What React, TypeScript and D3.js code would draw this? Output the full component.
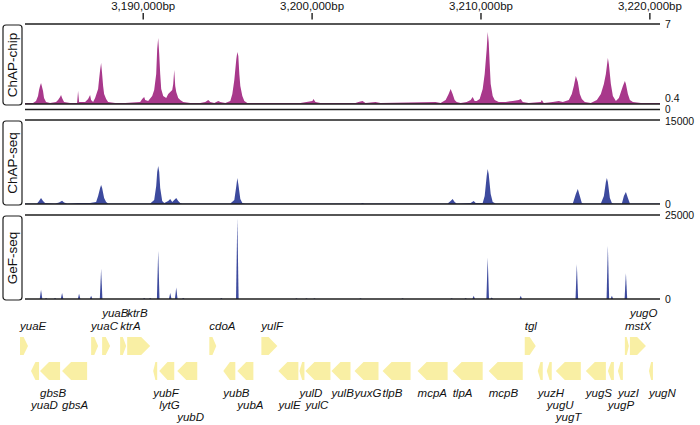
import React from 'react';
import * as d3 from 'd3';

// ---------- data ----------
const axisTicks = [3190000, 3200000, 3210000, 3220000];
const xDomain = [3183000, 3220600];

const trackNames = ['ChAP-chip', 'ChAP-seq', 'GeF-seq'];
const trackMin = [0.4, 0, 0];
const trackMax = [7, 15000, 25000];

// ChAP-chip enrichment profile [position bp, ratio]
const chapChip: [number, number][] = [
  [3183000, 0.48], [3183475, 0.48], [3183653, 0.65], [3183771, 1.06], [3183831, 1.56], [3183890, 1.89],
  [3183949, 2.13], [3184009, 1.8], [3184068, 1.47], [3184127, 0.9], [3184246, 0.57], [3184483, 0.48],
  [3184839, 0.57], [3184957, 0.73], [3185076, 0.98], [3185135, 1.14], [3185195, 0.9], [3185313, 0.57],
  [3185669, 0.48], [3186084, 0.48], [3186143, 1.47], [3186203, 0.57], [3186559, 0.57], [3186736, 0.81],
  [3186796, 0.98], [3186855, 1.14], [3186914, 0.73], [3187033, 0.57], [3187152, 0.9], [3187270, 1.39],
  [3187329, 1.64], [3187389, 2.46], [3187448, 3.21], [3187507, 3.78], [3187567, 2.88], [3187626, 1.89],
  [3187685, 1.23], [3187804, 0.81], [3187922, 0.57], [3188338, 0.48], [3188931, 0.48], [3189820, 0.57],
  [3189939, 0.81], [3190057, 0.98], [3190117, 0.73], [3190294, 0.65], [3190532, 1.06], [3190650, 1.56],
  [3190769, 2.88], [3190828, 4.94], [3190887, 5.85], [3190947, 4.53], [3191006, 2.88], [3191065, 1.64],
  [3191184, 1.06], [3191362, 0.9], [3191480, 1.23], [3191599, 1.39], [3191718, 1.56], [3191777, 2.05],
  [3191836, 3.21], [3191896, 1.89], [3191955, 1.39], [3192073, 0.9], [3192192, 0.73], [3192370, 0.57],
  [3192785, 0.48], [3193378, 0.48], [3193675, 0.57], [3193852, 0.73], [3193971, 0.57], [3194208, 0.48],
  [3194445, 0.65], [3194564, 0.57], [3194861, 0.48], [3195157, 0.65], [3195276, 1.23], [3195394, 2.38],
  [3195513, 4.11], [3195572, 4.69], [3195631, 4.36], [3195691, 2.88], [3195750, 1.89], [3195869, 1.06],
  [3195987, 0.65], [3196165, 0.48], [3199308, 0.48], [3200020, 0.65], [3200079, 0.81], [3200198, 0.57],
  [3200494, 0.48], [3202570, 0.48], [3202747, 0.57], [3202985, 0.65], [3203163, 0.48], [3203756, 0.57],
  [3204052, 0.48], [3207314, 0.57], [3207610, 0.48], [3207907, 0.73], [3208084, 1.23], [3208203, 1.64],
  [3208322, 1.23], [3208440, 0.73], [3208559, 0.57], [3208796, 0.48], [3209152, 0.57], [3209389, 0.73],
  [3209508, 0.98], [3209626, 0.65], [3209745, 0.65], [3209923, 0.81], [3210101, 1.64], [3210219, 2.88],
  [3210338, 4.94], [3210397, 6.34], [3210456, 5.52], [3210516, 3.7], [3210575, 2.05], [3210694, 1.06],
  [3210812, 0.73], [3211049, 0.57], [3211465, 0.57], [3211880, 0.65], [3212235, 0.73], [3212354, 0.81],
  [3212473, 0.57], [3212828, 0.48], [3213540, 0.57], [3213599, 0.73], [3213718, 0.48], [3214252, 0.57],
  [3214607, 0.65], [3214845, 0.57], [3215200, 0.73], [3215378, 1.23], [3215497, 1.89], [3215616, 2.71],
  [3215734, 2.22], [3215853, 1.23], [3215971, 0.81], [3216149, 0.57], [3216505, 0.48], [3216861, 0.73],
  [3217098, 1.23], [3217276, 2.05], [3217395, 2.88], [3217513, 4.2], [3217572, 3.7], [3217691, 2.05],
  [3217810, 1.06], [3217988, 0.65], [3218165, 0.9], [3218284, 1.39], [3218403, 1.89], [3218521, 2.3],
  [3218581, 2.05], [3218699, 1.23], [3218818, 0.73], [3218996, 0.57], [3219470, 0.48], [3220597, 0.48],
];

// ChAP-seq read coverage [position bp, reads]
const chapSeq: [number, number][] = [
  [3183000, 90], [3183712, 90], [3183831, 540], [3183949, 1070], [3184068, 540], [3184187, 180],
  [3184780, 90], [3185017, 270], [3185195, 590], [3185313, 270], [3185491, 90], [3186143, 180],
  [3186855, 180], [3187211, 360], [3187329, 1430], [3187448, 2860], [3187507, 3390], [3187567, 2860],
  [3187685, 1070], [3187804, 360], [3187922, 90], [3190413, 90], [3190650, 710], [3190769, 3210],
  [3190828, 5710], [3190887, 6790], [3190947, 5710], [3191006, 2860], [3191125, 540], [3191243, 180],
  [3191480, 540], [3191599, 890], [3191718, 360], [3191836, 710], [3191955, 1070], [3192073, 540],
  [3192192, 180], [3192311, 90], [3195157, 90], [3195394, 710], [3195513, 3210], [3195572, 4640],
  [3195631, 3570], [3195750, 890], [3195869, 180], [3196047, 90], [3202866, 90], [3202985, 180],
  [3203103, 90], [3208025, 90], [3208203, 540], [3208322, 890], [3208440, 360], [3208559, 90],
  [3209389, 180], [3209567, 540], [3209686, 180], [3210101, 180], [3210219, 1430], [3210338, 5000],
  [3210397, 6250], [3210456, 5360], [3210575, 1790], [3210694, 360], [3210872, 90], [3215438, 90],
  [3215616, 1790], [3215734, 2680], [3215853, 1430], [3215971, 180], [3216090, 90], [3217098, 90],
  [3217276, 1430], [3217395, 3930], [3217454, 4640], [3217513, 3930], [3217632, 1070], [3217750, 180],
  [3217869, 90], [3218343, 90], [3218462, 1430], [3218581, 2140], [3218699, 1070], [3218818, 90],
  [3220597, 90],
];

// GeF-seq sharp peaks [position bp, reads]
const gefSeq: [number, number][] = [
  [3183949, 2770], [3184246, 300], [3184780, 300], [3185195, 1790], [3186203, 1580], [3186914, 980],
  [3187507, 8930], [3190057, 300], [3190413, 300], [3190887, 14370], [3191599, 1790], [3191955, 3450],
  [3192370, 300], [3194623, 300], [3195572, 24100], [3199071, 200], [3199664, 200], [3200138, 200],
  [3202866, 200], [3205357, 200], [3208262, 200], [3209093, 300], [3209567, 980], [3210397, 12380],
  [3210634, 450], [3212354, 980], [3215675, 10420], [3217513, 15950], [3217750, 980], [3218581, 7740],
];

// genes: [name, start, end, strand, label level]
const genes: [string, number, number, number, number][] = [
  ['yuaE', 3182704, 3183178, 1, 2],
  ['yuaC', 3186914, 3187329, 1, 2],
  ['yuaB', 3187567, 3188041, 1, 1],
  ['ktrA', 3188634, 3188990, 1, 2],
  ['ktrB', 3189049, 3190413, 1, 1],
  ['cdoA', 3193912, 3194327, 1, 2],
  ['yulF', 3196995, 3197944, 1, 2],
  ['tgl', 3212591, 3213244, 1, 2],
  ['mstX', 3218521, 3218758, 1, 2],
  ['yugO', 3218818, 3219767, 1, 1],
  ['yuaD', 3183356, 3183831, -1, 2],
  ['gbsB', 3183890, 3185076, -1, 1],
  ['gbsA', 3185195, 3186677, -1, 2],
  ['yubF', 3190591, 3190828, -1, 1],
  ['lytG', 3190947, 3191836, -1, 2],
  ['yubD', 3192014, 3193200, -1, 3],
  ['yubB', 3194742, 3195454, -1, 1],
  ['yubA', 3195572, 3196521, -1, 2],
  ['yulE', 3198003, 3199189, -1, 2],
  ['yulD', 3199249, 3199545, -1, 1],
  ['yulC', 3199605, 3201087, -1, 2],
  ['yulB', 3201146, 3202273, -1, 1],
  ['yuxG', 3202510, 3203933, -1, 1],
  ['tlpB', 3204171, 3205831, -1, 1],
  ['mcpA', 3206246, 3208025, -1, 1],
  ['tlpA', 3208322, 3210101, -1, 1],
  ['mcpB', 3210456, 3212473, -1, 1],
  ['yuzH', 3213362, 3213659, -1, 1],
  ['yugU', 3213896, 3214192, -1, 2],
  ['yugT', 3214430, 3215912, -1, 3],
  ['yugS', 3216209, 3217395, -1, 1],
  ['yugP', 3217513, 3217869, -1, 2],
  ['yuzI', 3218106, 3218403, -1, 1],
  ['yugN', 3219944, 3220182, -1, 1],
];

// ---------- layout / style ----------
const W = 700;
const H = 425;
const FONT = '"Liberation Sans", Arial, Helvetica, sans-serif';
const trackTop = [24, 120, 215];
const trackBottom = [104, 204, 299];
const trackColor = ['#a8388b', '#3d4a9e', '#3d4a9e'];
const geneFill = '#f9efa4';
const LINE = '#1e1e1e';

const x = d3.scaleLinear().domain(xDomain).range([25, 660]);

function genePath(s: number, e: number, strand: number, yTop: number, h: number) {
  const x1 = x(s);
  const x2 = x(e);
  const w = x2 - x1;
  const head = Math.min(9, w * 0.55);
  const ym = yTop + h / 2;
  const yb = yTop + h;
  if (strand > 0) {
    return `M${x1},${yTop}L${x2 - head},${yTop}L${x2},${ym}L${x2 - head},${yb}L${x1},${yb}Z`;
  }
  return `M${x2},${yTop}L${x1 + head},${yTop}L${x1},${ym}L${x1 + head},${yb}L${x2},${yb}Z`;
}

export default function App() {
  const fmt = d3.format(',');
  const yScales = trackNames.map((_, i) =>
    d3.scaleLinear().domain([trackMin[i], trackMax[i]]).range([trackBottom[i], trackTop[i]])
  );

  const areaFor = (i: number) =>
    d3
      .area<[number, number]>()
      .x((d) => x(d[0]))
      .y0(trackBottom[i])
      .y1((d) => yScales[i](d[1]))
      .curve(d3.curveLinear);

  const fwdTop = 337;
  const revTop = 362;
  const geneH = 18;
  const fwdLabelY = [0, 317, 330];
  const revLabelY = [0, 397, 409, 421];

  return (
    <svg
      width={W}
      height={H}
      style={{ position: 'absolute', left: 0, top: 0, background: '#fff' }}
      fontFamily={FONT}
    >
      <rect x={0} y={0} width={W} height={H} fill="#fff" />
      {/* top coordinate axis */}
      {axisTicks.map((t) => (
        <g key={t}>
          <line x1={x(t)} x2={x(t)} y1={13} y2={19.5} stroke={LINE} strokeWidth={1.4} />
          <text x={x(t)} y={10} fontSize={11.5} textAnchor="middle" fill="#111">
            {fmt(t)}bp
          </text>
        </g>
      ))}

      {/* tracks */}
      {trackNames.map((name, i) => {
        const top = trackTop[i];
        const bot = trackBottom[i];
        return (
          <g key={name}>
            <rect x={3} y={top + 1} width={19} height={bot - top} rx={3} fill="#fff" stroke={LINE} strokeWidth={1.2} />
            <text
              transform={`translate(12.8,${(top + bot) / 2 + 1}) rotate(-90)`}
              fontSize={13.5}
              textAnchor="middle"
              dominantBaseline="central"
              fill="#111"
            >
              {name}
            </text>
            {i === 2 ? (
              gefSeq.map((d, k) => (
                <path
                  key={k}
                  d={`M${x(d[0]) - 1.3},${bot}L${x(d[0])},${yScales[i](d[1])}L${x(d[0]) + 1.3},${bot}Z`}
                  fill={trackColor[i]}
                />
              ))
            ) : (
              <path d={areaFor(i)(i === 0 ? chapChip : chapSeq) || ''} fill={trackColor[i]} />
            )}
            <line x1={25} x2={660} y1={top} y2={top} stroke={LINE} strokeWidth={1.5} />
            <line x1={25} x2={660} y1={bot} y2={bot} stroke={LINE} strokeWidth={1.5} />
            <text x={665} y={i === 1 ? top + 1 : top} fontSize={10.5} dominantBaseline="central" fill="#111">
              {trackMax[i]}
            </text>
            {i === 0 ? (
              <text x={665} y={101.5} fontSize={10.5} fill="#111">
                {trackMin[i]}
              </text>
            ) : (
              <text x={665} y={bot} fontSize={10.5} dominantBaseline="central" fill="#111">
                {trackMin[i]}
              </text>
            )}
          </g>
        );
      })}
      {/* zero line under ChAP-chip */}
      <line x1={25} x2={660} y1={109.5} y2={109.5} stroke={LINE} strokeWidth={1.3} />
      <text x={665} y={112.5} fontSize={10} fill="#111">
        0
      </text>

      {/* genes */}
      {genes.map(([name, s, e, strand]) => (
        <path key={name} d={genePath(s, e, strand, strand > 0 ? fwdTop : revTop, geneH)} fill={geneFill} />
      ))}
      {genes.map(([name, s, e, strand, lvl]) => (
        <text
          key={'l' + name}
          x={x(s)}
          y={strand > 0 ? fwdLabelY[lvl] : revLabelY[lvl]}
          fontSize={11.5}
          fontStyle="italic"
          fill="#111"
        >
          {name}
        </text>
      ))}
    </svg>
  );
}
